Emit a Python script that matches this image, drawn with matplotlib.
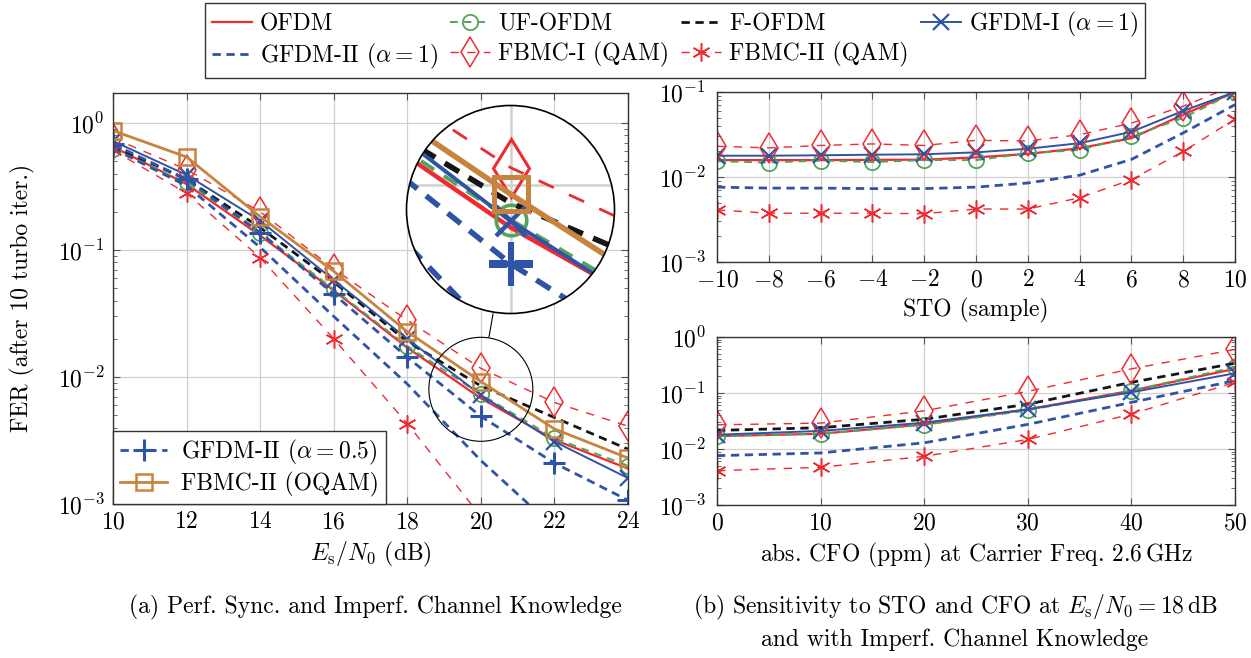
import math
import matplotlib
matplotlib.use('Agg')
import matplotlib.pyplot as plt
from matplotlib.patches import Circle, Ellipse
from matplotlib.lines import Line2D

plt.rcParams['font.family'] = 'serif'
plt.rcParams['font.serif'] = ['cmr10']
plt.rcParams['mathtext.fontset'] = 'cm'
plt.rcParams['axes.formatter.use_mathtext'] = True
plt.rcParams['axes.unicode_minus'] = True

FS = 17

# ---- data: (a) FER vs Es/N0 ----
esn0 = [10, 12, 14, 16, 18, 20, 22, 24]
a_ofdm = [0.65, 0.33, 0.13, 0.048, 0.017, 0.0068, 0.0032, 0.0019]
a_uf = [0.62, 0.34, 0.137, 0.049, 0.0175, 0.0073, 0.0033, 0.0020]
a_f = [0.66, 0.36, 0.15, 0.056, 0.019, 0.0085, 0.0048, 0.0027]
a_gfdm1 = [0.72, 0.39, 0.17, 0.058, 0.020, 0.0072, 0.0031, 0.0016]
a_gfdm2 = [0.63, 0.32, 0.105, 0.030, 0.0088, 0.0022, 0.00065, 0.0002]
a_fbmc1 = [0.76, 0.43, 0.20, 0.071, 0.028, 0.0117, 0.0063, 0.0041]
a_fbmc2 = [0.61, 0.28, 0.087, 0.020, 0.0043, 0.0008, 0.0002, 0.00005]
a_gfdm2_05 = [0.68, 0.36, 0.137, 0.045, 0.0143, 0.0049, 0.0021, 0.00107]
a_oqam = [0.87, 0.54, 0.183, 0.068, 0.0227, 0.0092, 0.0039, 0.0023]

# ---- data: (b) FER vs STO ----
sto = [-10, -8, -6, -4, -2, 0, 2, 4, 6, 8, 10]
s_ofdm = [0.0158, 0.0158, 0.0158, 0.0159, 0.016, 0.017, 0.0187, 0.0218, 0.0286, 0.054, 0.1]
s_uf = [0.0153, 0.0148, 0.0156, 0.015, 0.0158, 0.0158, 0.019, 0.0208, 0.030, 0.0496, 0.1]
s_gfdm1 = [0.0178, 0.0178, 0.018, 0.0183, 0.0185, 0.0195, 0.0215, 0.025, 0.034, 0.060, 0.1]
s_gfdm2 = [0.0076, 0.0074, 0.0074, 0.0073, 0.0073, 0.0076, 0.0085, 0.0105, 0.0161, 0.033, 0.071]
s_fbmc1 = [0.023, 0.022, 0.0235, 0.0245, 0.0235, 0.027, 0.0265, 0.0315, 0.043, 0.068, 0.12]
s_fbmc2 = [0.0041, 0.00375, 0.00375, 0.00375, 0.0037, 0.0042, 0.0042, 0.0057, 0.0093, 0.020, 0.048]

# ---- data: (b) FER vs CFO ----
cfo = [0, 10, 20, 30, 40, 50]
c_ofdm = [0.017, 0.0187, 0.0275, 0.051, 0.11, 0.27]
c_uf = [0.017, 0.0187, 0.027, 0.049, 0.11, 0.29]
c_f = [0.0215, 0.024, 0.034, 0.063, 0.155, 0.34]
c_gfdm1 = [0.018, 0.021, 0.0295, 0.051, 0.103, 0.225]
c_gfdm2 = [0.0076, 0.0085, 0.0129, 0.0275, 0.068, 0.166]
c_fbmc1 = [0.027, 0.029, 0.048, 0.107, 0.27, 0.60]
c_fbmc2 = [0.0041, 0.0047, 0.0074, 0.0148, 0.042, 0.155]

RED = '#ED2B30'
BLUE = '#2F54A6'
GREEN = '#55A35A'
BROWN = '#C8843F'
BLACK = '#151515'

STYLES = {
    'OFDM': dict(color=RED, ls='-', lw=1.6),
    'UF-OFDM': dict(color=GREEN, ls=(0, (4, 3)), lw=1.4, marker='o', ms=11, mfc='none', mew=1.3),
    'F-OFDM': dict(color=BLACK, ls=(0, (3, 2)), lw=2.0),
    'GFDM-I': dict(color=BLUE, ls='-', lw=1.4, marker='x', ms=11, mew=1.6),
    'GFDM-II': dict(color=BLUE, ls=(0, (3, 2)), lw=2.0),
    'FBMC-I': dict(color=RED, ls=(0, (6, 6)), lw=1.0, marker='d', ms=15, mfc='none', mew=1.1),
    'FBMC-II': dict(color=RED, ls=(0, (6, 6)), lw=1.0, marker=(6, 2, 0), ms=13, mew=1.1),
    'GFDM-II05': dict(color=BLUE, ls=(0, (3, 2)), lw=2.0, marker='+', ms=16, mew=2.2),
    'OQAM': dict(color=BROWN, ls='-', lw=2.0, marker='s', ms=12, mfc='none', mew=1.8),
}
LABELS = {
    'OFDM': 'OFDM', 'UF-OFDM': 'UF-OFDM', 'F-OFDM': 'F-OFDM',
    'GFDM-I': r'GFDM-I ($\alpha = 1$)', 'GFDM-II': r'GFDM-II ($\alpha = 1$)',
    'FBMC-I': 'FBMC-I (QAM)', 'FBMC-II': 'FBMC-II (QAM)',
    'GFDM-II05': r'GFDM-II ($\alpha = 0.5$)', 'OQAM': 'FBMC-II (OQAM)',
}


def style(key, scale=1.0):
    s = dict(STYLES[key])
    for k in ('lw', 'ms', 'mew'):
        if k in s:
            s[k] = s[k] * scale
    return s


def setup(ax, xlim, ylim, xticks, yticks, ypad=6):
    ax.set_yscale('log')
    ax.set_xlim(*xlim)
    ax.set_ylim(*ylim)
    ax.set_xticks(xticks)
    ax.set_yticks(yticks)
    ax.grid(True, which='major', color='#d0d0d0', lw=0.9)
    ax.set_axisbelow(True)
    ax.tick_params(which='both', direction='in', top=True, right=True, labelsize=FS, color='#555555')
    ax.tick_params(which='major', length=5)
    ax.tick_params(axis='x', which='major', pad=5)
    ax.tick_params(axis='y', which='major', pad=ypad)
    ax.tick_params(which='minor', length=3)
    for sp in ax.spines.values():
        sp.set_color('#333333')
        sp.set_linewidth(1.0)


W, H = 1251, 658
fig = plt.figure(figsize=(W / 100, H / 100), dpi=100)


def px_axes(l, t, r, b):
    return fig.add_axes([l / W, 1 - b / H, (r - l) / W, (b - t) / H])


# ---------- (a) ----------
ax = px_axes(113, 93, 628, 504)
setup(ax, (10, 24), (1e-3, 10 ** 0.236), esn0, [1e-3, 1e-2, 1e-1, 1e0])

series_a = [('OFDM', a_ofdm), ('UF-OFDM', a_uf), ('F-OFDM', a_f), ('GFDM-I', a_gfdm1),
            ('GFDM-II', a_gfdm2), ('FBMC-I', a_fbmc1), ('FBMC-II', a_fbmc2),
            ('GFDM-II05', a_gfdm2_05), ('OQAM', a_oqam)]
handles = {}
for key, vals in series_a:
    handles[key], = ax.plot(esn0, vals, label=LABELS[key], **style(key))

ax.set_xlabel(r'$E_\mathrm{s}/N_0$ (dB)', fontsize=FS, labelpad=5)
fig.text(22 / W, 1 - 298 / H, 'FER (after 10 turbo iter.)', rotation=90, ha='center', va='center', fontsize=FS)

leg_a = ax.legend(handles=[handles['GFDM-II05'], handles['OQAM']], loc='lower left', fontsize=FS,
                  fancybox=False, edgecolor='#333333', framealpha=1, borderaxespad=0,
                  handlelength=2.0, handletextpad=0.6, borderpad=0.3, labelspacing=0.2)
leg_a.get_frame().set_linewidth(1.0)

# magnifier: small circle on main axes, large circle inset
cx, cy = 20, 0.008
r_px = 52
mag = 2.0
ccx, ccy = ax.transData.transform((cx, cy))
fig.add_artist(Ellipse((ccx / W, ccy / H), 2 * r_px / W, 2 * r_px / H, transform=fig.transFigure,
                       fill=False, ec='black', lw=0.8, zorder=5))
big_cx, big_cy, big_r = 510.5, 209.5, r_px * mag
fig.add_artist(Line2D([489 / W, 493 / W], [1 - 337 / H, 1 - 314 / H], transform=fig.transFigure,
                      color='black', lw=0.8, zorder=5))

ins = px_axes(big_cx - big_r, big_cy - big_r, big_cx + big_r, big_cy + big_r)
ins.set_yscale('log')
xpu = 515 / 14.0
ypd = 411 / (3 + 0.236)
hx = r_px / xpu
hy = r_px / ypd
ins.set_xlim(cx - hx, cx + hx)
ins.set_ylim(10 ** (math.log10(cy) - hy), 10 ** (math.log10(cy) + hy))
for sp in ins.spines.values():
    sp.set_visible(False)
ins.set_xticks([])
ins.set_yticks([])
ins.minorticks_off()
ins.patch.set_visible(False)
ins.add_patch(Circle((0.5, 0.5), 0.5, transform=ins.transAxes, fc='white', ec='none', zorder=0))
clip = Circle((0.5, 0.5), 0.5, transform=ins.transAxes)
g1 = ins.axvline(20, color='#d0d0d0', lw=1.8, zorder=0.5)
g2 = ins.axhline(1e-2, color='#d0d0d0', lw=1.8, zorder=0.5)
g1.set_clip_path(clip)
g2.set_clip_path(clip)
for i, (key, vals) in enumerate(series_a):
    ln, = ins.plot(esn0, vals, zorder=2 + i * 0.01, **style(key, mag))
    ln.set_clip_path(clip)
ins.add_patch(Circle((0.5, 0.5), 0.5, transform=ins.transAxes, fc='none', ec='black', lw=1.2, zorder=10,
                     clip_on=False))

# ---------- (b) STO ----------
ax_s = px_axes(717, 92, 1235, 262)
setup(ax_s, (-10, 10), (1e-3, 1e-1), sto, [1e-3, 1e-2, 1e-1], ypad=8)
for key, vals in [('OFDM', s_ofdm), ('UF-OFDM', s_uf), ('GFDM-I', s_gfdm1), ('GFDM-II', s_gfdm2),
                  ('FBMC-I', s_fbmc1), ('FBMC-II', s_fbmc2)]:
    ax_s.plot(sto, vals, **style(key))
ax_s.set_xlabel('STO (sample)', fontsize=FS, labelpad=5)

# ---------- (b) CFO ----------
ax_c = px_axes(717, 337, 1235, 505)
setup(ax_c, (0, 50), (1e-3, 1e0), cfo, [1e-3, 1e-2, 1e-1, 1e0], ypad=8)
for key, vals in [('OFDM', c_ofdm), ('UF-OFDM', c_uf), ('F-OFDM', c_f), ('GFDM-I', c_gfdm1),
                  ('GFDM-II', c_gfdm2), ('FBMC-I', c_fbmc1), ('FBMC-II', c_fbmc2)]:
    ax_c.plot(cfo, vals, **style(key))
ax_c.set_xlabel(r'abs. CFO (ppm) at Carrier Freq. 2.6$\,$GHz', fontsize=FS, labelpad=5)

# ---------- shared legend ----------
order = ['OFDM', 'GFDM-II', 'UF-OFDM', 'FBMC-I', 'F-OFDM', 'FBMC-II', 'GFDM-I']
leg = fig.legend([handles[k] for k in order], [LABELS[k] for k in order], ncol=4,
                 loc='upper center', bbox_to_anchor=(675 / W, 1 - 3 / H), fontsize=FS,
                 fancybox=False, edgecolor='#333333', framealpha=1, handlelength=1.7,
                 handletextpad=0.35, columnspacing=0.5, borderpad=0.3, labelspacing=0.25,
                 borderaxespad=0)
leg.get_frame().set_linewidth(1.0)

# ---------- captions ----------
fig.text(375 / W, 1 - 607 / H, '(a) Perf. Sync. and Imperf. Channel Knowledge', ha='center', va='center', fontsize=FS)
fig.text(955 / W, 1 - 607 / H, r'(b) Sensitivity to STO and CFO at $E_\mathrm{s}/N_0 = 18\,\mathrm{dB}$',
         ha='center', va='center', fontsize=FS)
fig.text(955 / W, 1 - 640 / H, 'and with Imperf. Channel Knowledge', ha='center', va='center', fontsize=FS)

fig.savefig('out.png', dpi=100)
